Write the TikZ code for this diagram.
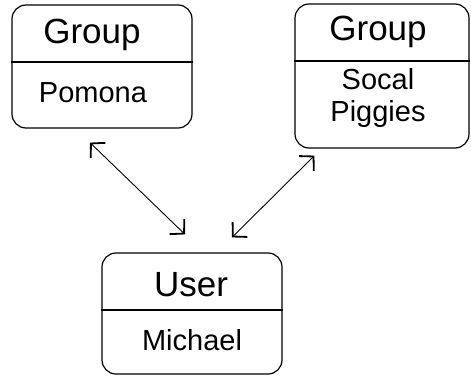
\documentclass[tikz,border=0pt]{standalone}
\usepackage{fontspec}
\setmainfont{Liberation Sans}
\usetikzlibrary{arrows.meta}

\tikzset{
    classbox/.style={draw, line width=1.2pt, rounded corners=14pt, inner sep=0pt},
    titletext/.style={font=\fontsize{35}{38}\selectfont},
    bodytext/.style={font=\fontsize{29}{33}\selectfont, align=center},
    divider/.style={line width=1.2pt},
    link/.style={line width=0.9pt, {Straight Barb[length=10pt, width=21pt, line width=1.8pt]}-{Straight Barb[length=10pt, width=21pt, line width=1.8pt]}}
}

\begin{document}
\begin{tikzpicture}[x=1pt, y=1pt]
\useasboundingbox (0,0) rectangle (471,376);

% the two groups
\node[classbox, minimum width=180pt, minimum height=123pt] (pomona) at (102, 309.5) {};
\node[classbox, minimum width=174pt, minimum height=144pt] (piggies) at (382, 300) {};
% the user
\node[classbox, minimum width=180pt, minimum height=121pt] (michael) at (192, 62.5) {};

\draw[divider] (pomona.west |- 0,314) -- (pomona.east |- 0,314);
\draw[divider] (piggies.west |- 0,315) -- (piggies.east |- 0,315);
\draw[divider] (michael.west |- 0,66) -- (michael.east |- 0,66);

\node[titletext] (pomonatitle) at (92, 341) {Group};
\node[bodytext] (pomonaname) at (93, 283) {Pomona};
\node[titletext] (piggiestitle) at (378, 344) {Group};
\node[bodytext] (piggiesname) at (378, 278) {Socal\\Piggies};
\node[titletext] (michaeltitle) at (191, 91) {User};
\node[bodytext] (michaelname) at (192, 36) {Michael};

\coordinate (p1) at ([shift={(-12,-14)}]pomona.south);
\coordinate (m1) at ([shift={(-7,18)}]michael.north);
\coordinate (m2) at ([shift={(40,15)}]michael.north);
\coordinate (p2) at ([shift={(20,-7)}]piggies.south west);
\draw[link] (p1) -- (m1);
\draw[link] (m2) -- (p2);
\end{tikzpicture}
\end{document}
